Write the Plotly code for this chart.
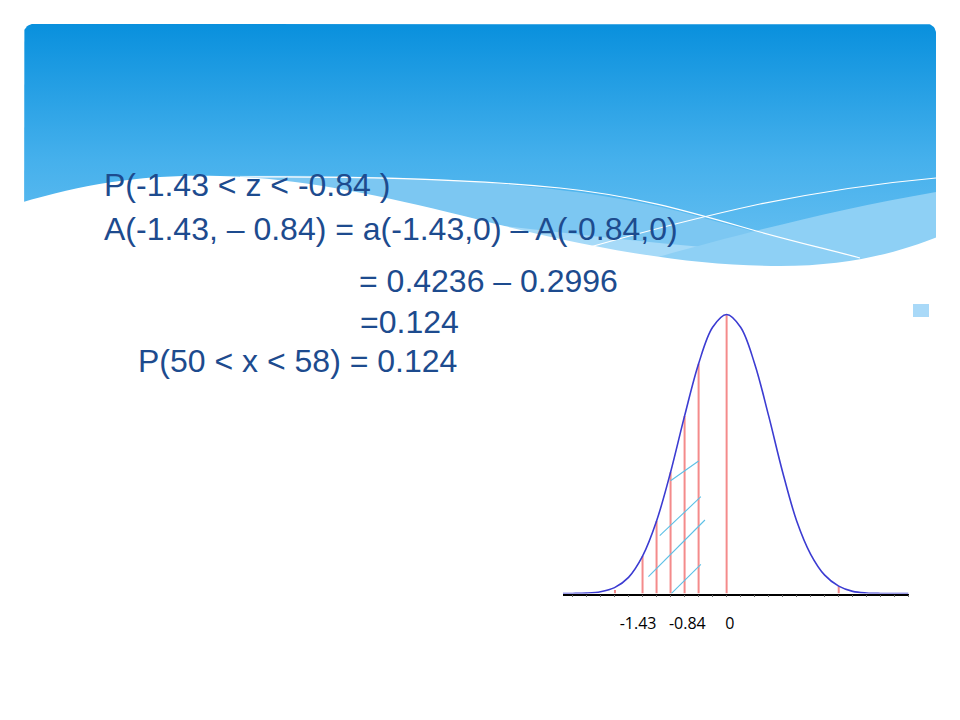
import numpy as np
import plotly.graph_objects as go

# ---------------- data ----------------
curve_z = [-3.62, -3.41, -3.10, -2.79, -2.48, -2.17, -1.86, -1.55, -1.24, -0.93, -0.62, -0.31, 0.0,
           0.31, 0.62, 0.93, 1.24, 1.55, 1.86, 2.17, 2.48, 2.79, 3.10, 3.41, 3.72, 4.02]
curve_h = [0.0000, 0.0001, 0.0006, 0.0026, 0.0084, 0.0231, 0.0534, 0.1036, 0.1733, 0.2537, 0.3283, 0.3803,
           0.3986,
           0.3803, 0.3283, 0.2537, 0.1733, 0.1036, 0.0560, 0.0262, 0.0105, 0.0030, 0.0007, 0.0001, 0.0000,
           0.0000]

red_z = [-2.47, -1.86, -1.55, -1.24, -0.93, -0.62, 0.0, 2.48]
red_h = [0.0050, 0.0534, 0.1036, 0.1733, 0.2537, 0.3283, 0.3986, 0.0105]

hatch_z0 = [-1.24, -1.48, -1.73, -1.22]
hatch_h0 = [0.1611, 0.0826, 0.0240, 0.0003]
hatch_z1 = [-0.62, -0.57, -0.48, -0.57]
hatch_h1 = [0.1893, 0.1383, 0.1050, 0.0417]

tick_labels = ["-1.43", "-0.84", "0"]
tick_pos = [-1.96, -0.87, 0.07]

text_lines = [
    "P(-1.43 < z < -0.84 )",
    "A(-1.43, – 0.84) = a(-1.43,0) – A(-0.84,0)",
    "= 0.4236 – 0.2996",
    "=0.124",
    "P(50 < x < 58) = 0.124",
]
text_x = [102, 102, 357, 358, 136]
text_y = [185, 229, 281, 322, 361]

# ---------------- figure ----------------
# the page body keeps an 8 px margin, so the figure fills the rest of the window
OFF = 8
W, H = 960 - OFF, 720 - OFF
fig = go.Figure()

# background header (window-pixel coordinates on x/y)
r = 9
L, R, T, B = 24, 936, 24, 285
a1 = np.linspace(np.pi, 1.5 * np.pi, 12)
a2 = np.linspace(1.5 * np.pi, 2 * np.pi, 12)
px = [L] + list(L + r + r * np.cos(a1)) + list(R - r + r * np.cos(a2)) + [R, L]
py = [B] + list(T + r + r * np.sin(a1)) + list(T + r + r * np.sin(a2)) + [B, B]
fig.add_trace(go.Scatter(
    x=px, y=py, mode="lines", fill="toself", line=dict(width=0, color="rgba(0,0,0,0)"),
    fillgradient=dict(type="vertical", colorscale=[[0, "#0990dd"], [0.55, "#45b0ec"], [1, "#6cc2f2"]],
                      start=24, stop=270),
    hoverinfo="skip", showlegend=False, xaxis="x", yaxis="y"))

# chart traces
rx, ry = [], []
for z, h in zip(red_z, red_h):
    rx += [z, z, None]
    ry += [0, h, None]
fig.add_trace(go.Scatter(x=rx, y=ry, mode="lines", line=dict(color="rgba(240,100,100,0.75)", width=2),
                         hoverinfo="skip", showlegend=False, xaxis="x2", yaxis="y2"))
hx, hy = [], []
for z0, h0, z1, h1 in zip(hatch_z0, hatch_h0, hatch_z1, hatch_h1):
    hx += [z0, z1, None]
    hy += [h0, h1, None]
fig.add_trace(go.Scatter(x=hx, y=hy, mode="lines", line=dict(color="#5cc0e6", width=1.1),
                         hoverinfo="skip", showlegend=False, xaxis="x2", yaxis="y2"))
fig.add_trace(go.Scatter(x=curve_z, y=curve_h, mode="lines",
                         line=dict(color="#3c3cd2", width=1.6, shape="spline", smoothing=1.0),
                         hoverinfo="skip", showlegend=False, xaxis="x2", yaxis="y2"))

shapes = [
    # lighter band below first white line
    dict(type="path", path="M 220,176 C 320,175 420,177 480,182 C 580,190 640,200 700,217 "
                           "C 760,234 820,248 880,263 L 880,290 L 220,290 Z",
         fillcolor="#7cc7f2", line=dict(width=0)),
    # pale band near the bottom
    dict(type="path", path="M 470,222 C 600,238 720,250 880,262 L 880,290 L 470,290 Z",
         fillcolor="#a6daf8", line=dict(width=0)),
    # lighter band on the right
    dict(type="path", path="M 640,262 C 720,240 820,212 936,192 L 936,290 L 640,290 Z",
         fillcolor="#8ed0f5", line=dict(width=0)),
    # white wave
    dict(type="path", path="M 20,203 C 90,182 150,174 220,176 C 300,178 380,195 480,220 "
                           "C 580,245 680,266 780,266 C 850,266 900,252 940,236 L 940,300 L 20,300 Z",
         fillcolor="white", line=dict(width=0)),
    # thin white lines
    dict(type="path", path="M 240,177 C 380,176 480,180 560,188 C 640,196 700,215 760,232 "
                           "C 800,243 830,250 860,258",
         line=dict(color="white", width=1.2)),
    dict(type="path", path="M 590,247 C 650,230 700,217 760,204 C 820,192 880,183 936,178",
         line=dict(color="white", width=1.2)),
    # small bullet square
    dict(type="rect", x0=913, x1=929, y0=304, y1=317, fillcolor="#a9d9f8", line=dict(width=0)),
]
for s in shapes:
    s.update(xref="x", yref="y", layer="above")

annotations = []
for t, x, y in zip(text_lines, text_x, text_y):
    annotations.append(dict(text=t, x=x, y=y, xref="x", yref="y", xanchor="left", yanchor="middle",
                            showarrow=False, font=dict(family="Liberation Sans, Arial", size=32,
                                                       color="#1d4b8e")))


def pxx(p):
    return (p - OFF) / W


def pxy(p):
    return 1 - (p - OFF) / H


fig.update_layout(
    width=W, height=H, margin=dict(l=0, r=0, t=0, b=0),
    paper_bgcolor="white", plot_bgcolor="rgba(0,0,0,0)",
    showlegend=False, shapes=shapes, annotations=annotations,
    xaxis=dict(domain=[0, 1], range=[OFF, 960], visible=False, fixedrange=True),
    yaxis=dict(domain=[0, 1], range=[720, OFF], visible=False, fixedrange=True),
    xaxis2=dict(domain=[pxx(563), pxx(909)], range=[-3.62, 4.035], anchor="y2",
                showline=True, linecolor="black", linewidth=1.5, showgrid=False, zeroline=False,
                tickmode="array", tickvals=tick_pos, ticktext=tick_labels, ticks="",
                ticklabelstandoff=15,
                tickfont=dict(family="Open Sans", size=16, color="black"),
                minor=dict(tickmode="linear", tick0=0, dtick=0.31, ticks="outside", ticklen=2,
                           tickcolor="#666", showgrid=False)),
    yaxis2=dict(domain=[pxy(593.5), pxy(300)], range=[0, 0.4193], anchor="x2",
                visible=False, showgrid=False, zeroline=False),
)

fig.write_html("out.html")
